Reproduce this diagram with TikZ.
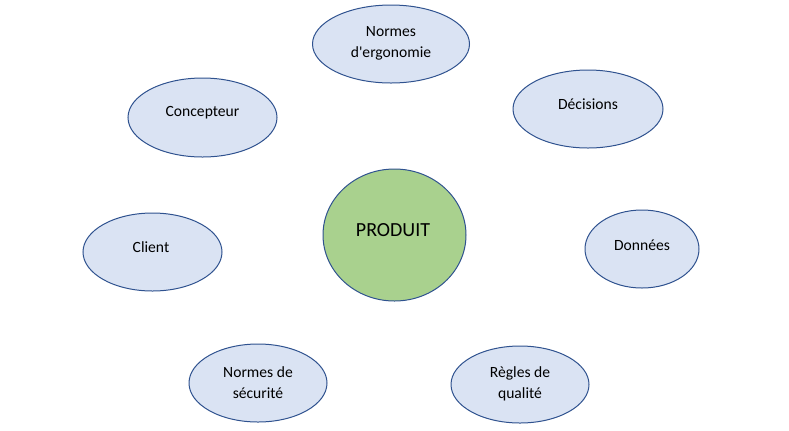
\documentclass[tikz,border=0pt]{standalone}
\usepackage{fontspec}
\setmainfont{Carlito}
\usetikzlibrary{shapes.geometric}
\definecolor{ellfill}{HTML}{DAE3F3}
\definecolor{ellline}{HTML}{2F528F}
\definecolor{prodfill}{HTML}{A9D18E}
\tikzset{
  oval/.style n args={2}{ellipse, draw=ellline, line width=0.75pt, fill=ellfill, inner sep=0pt,
     minimum width={#1*0.75pt}, minimum height={#2*0.75pt}},
  lbl/.style={font=\fontsize{11.7}{15.6}\selectfont, align=center, text=black, inner sep=0pt},
}
\begin{document}
\begin{tikzpicture}[x=0.75pt,y=-0.75pt]
\useasboundingbox (0,0) rectangle (789,430);
% central circle
\node[oval={143}{132}, fill=prodfill] (prod) at (394.5,235) {};
\node[font=\fontsize{15}{18}\selectfont, inner sep=0pt] (prodt) at (393,229.7) {PRODUIT};
% ellipses
\node[oval={157}{78}] (ergo) at (391,44) {};
\node[lbl] (ergot) at (391,43.5) {Normes\\d\textquotesingle ergonomie};
\node[oval={150}{78}] (deci) at (588,109) {};
\node[lbl] (decit) at (588,104.5) {Décisions};
\node[oval={149}{79}] (conc) at (202.5,117.5) {};
\node[lbl] (conct) at (202.5,113) {Concepteur};
\node[oval={139}{78}] (clie) at (152.5,252) {};
\node[lbl] (cliet) at (151,247) {Client};
\node[oval={114}{78}] (donn) at (642,249) {};
\node[lbl] (donnt) at (642,245) {Données};
\node[oval={138}{78}] (secu) at (258,383) {};
\node[lbl] (secut) at (258,382.5) {Normes de\\sécurité};
\node[oval={138}{77}] (qual) at (520,384.5) {};
\node[lbl] (qualt) at (520,383.5) {Règles de\\qualité};
\end{tikzpicture}
\end{document}
